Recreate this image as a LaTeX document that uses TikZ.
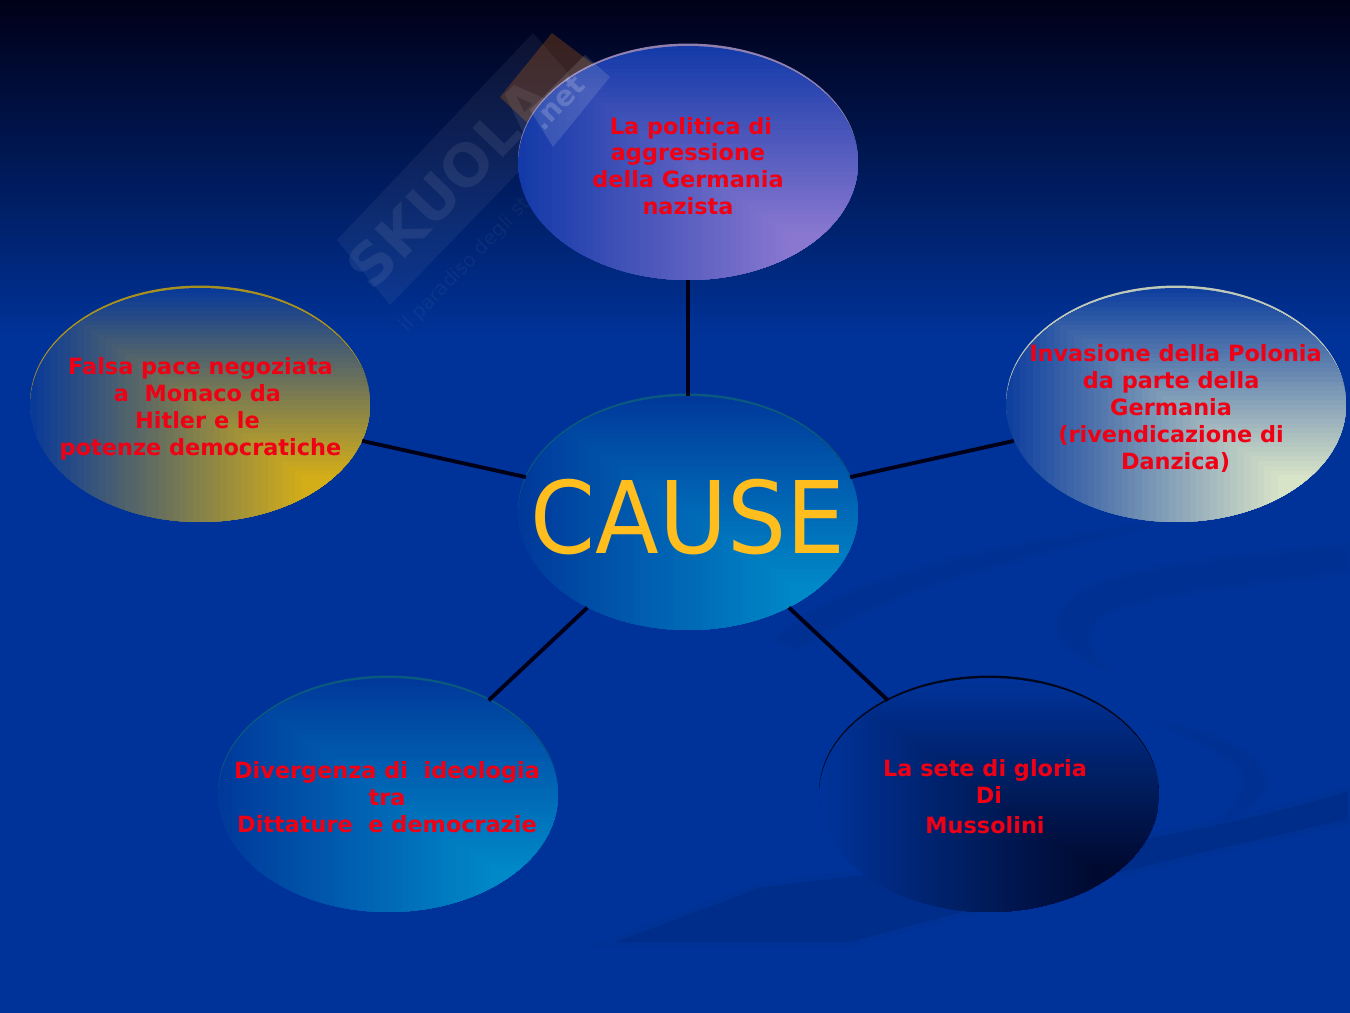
\documentclass[tikz,border=0pt]{standalone}
\usepackage{fontspec}
\setmainfont{DejaVu Sans}
\usetikzlibrary{shapes.geometric,calc}
\definecolor{fondo}{HTML}{003399}
\definecolor{scuro}{HTML}{000018}
\definecolor{scia}{HTML}{003091}
\definecolor{sciabis}{HTML}{002D8A}
\definecolor{rosso}{HTML}{F00014}
\definecolor{oro}{HTML}{FFBE1E}
\definecolor{violaA}{HTML}{133AA8}
\definecolor{violaB}{HTML}{8A78D0}
\definecolor{violaC}{HTML}{9080B0}
\definecolor{gialloA}{HTML}{0A3A98}
\definecolor{gialloB}{HTML}{D4AE18}
\definecolor{gialloC}{HTML}{A89020}
\definecolor{chiaroA}{HTML}{0F3F9F}
\definecolor{chiaroB}{HTML}{D8E4C8}
\definecolor{chiaroC}{HTML}{C0C8B8}
\definecolor{azzurroA}{HTML}{00399A}
\definecolor{azzurroB}{HTML}{0088C8}
\definecolor{azzurroC}{HTML}{0A5A80}
\definecolor{notteA}{HTML}{003399}
\definecolor{notteB}{HTML}{000A30}
\definecolor{notteC}{HTML}{000820}
\tikzset{
    bolla/.style={ellipse,minimum width=6.8cm,minimum height=4.68cm,inner sep=0pt,
        preaction={fill=#1C,transform canvas={yshift=1.4pt}},
        path picture={
            \coordinate (fuoco) at ($(path picture bounding box.south east)!.2!(path picture bounding box.north west)$);
            \foreach \i in {0,...,40}{
                \pgfmathsetmacro{\t}{1-\i/40}
                \pgfmathsetmacro{\p}{100*\i/40}
                \fill[#1B!\p!#1A] ($(fuoco)!\t!(path picture bounding box.north west)$) rectangle (path picture bounding box.south east);
            }
        }},
    testo/.style={font=\bfseries\fontsize{12.75}{15.3}\selectfont,text=rosso,align=center,inner sep=0pt},
    legame/.style={line width=2.2pt,color=scuro},
    striscia/.style={fill=scia,draw=scia!50!fondo,line width=3pt}
}
\begin{document}
\begin{tikzpicture}[x=.02cm,y=-.02cm]
    \useasboundingbox (0,0) rectangle (1350,1013);
    % background
    \fill[fondo] (0,0) rectangle (1350,1013);
    \shade[top color=scuro,bottom color=fondo] (0,0) rectangle (1350,340);
    \fill[striscia] (775,640) .. controls (850,570) and (1000,545) .. (1150,525) .. controls (1000,565) and (880,590) .. (800,650) -- cycle;
    \fill[striscia] (1350,545) .. controls (1200,560) and (1060,570) .. (1057,625) .. controls (1057,645) and (1075,655) .. (1105,668) .. controls (1092,655) and (1085,640) .. (1090,630) .. controls (1100,595) and (1250,585) .. (1350,572) -- cycle;
    \fill[striscia] (1165,725) .. controls (1240,735) and (1275,770) .. (1265,790) .. controls (1252,810) and (1232,820) .. (1215,825) .. controls (1240,805) and (1250,780) .. (1235,765) .. controls (1215,750) and (1185,735) .. (1165,725) -- cycle;
    \fill[striscia,fill=sciabis] (1350,788) .. controls (1150,850) and (950,860) .. (760,885) -- (600,945) -- (848,945) .. controls (1000,905) and (1150,865) .. (1350,822) -- cycle;
    % watermark, under the bubbles
    \fill[white,opacity=.05] (337,240) -- (533,33) -- (590,98) -- (390,305) -- cycle;
    \fill[orange,opacity=.22] (552,33) -- (500,97) -- (553,147) -- (610,77) -- cycle;
    \node[rotate=46,text=white,opacity=.075,inner sep=0pt,font=\bfseries\fontsize{33}{33}\selectfont] (marchio) at (449,183) {SKUOLA};
    \node[rotate=46,text=white,opacity=.045,inner sep=0pt,font=\fontsize{11}{11}\selectfont] (motto) at (487,243) {il paradiso degli studenti};
    % the bubbles
    \node[bolla=viola] (politica) at (688,163) {};
    \node[bolla=giallo] (pace) at (200,405) {};
    \node[bolla=chiaro] (polonia) at (1176,405) {};
    \node[bolla=azzurro] (cause) at (688,513) {};
    \node[bolla=azzurro] (ideologia) at (388,795) {};
    \node[bolla=notte] (gloria) at (989,795) {};
    % links
    \draw[legame] (cause) -- (politica);
    \draw[legame] (cause) -- (pace);
    \draw[legame] (cause) -- (polonia);
    \draw[legame] (cause) -- (ideologia);
    \draw[legame] (cause) -- (gloria);
    % texts
    \node[testo] (tpolitica) at (688,166) {\kern3.4pt La politica di\\aggressione\\della Germania\\nazista};
    \node[testo] (tpace) at (200.5,409) {Falsa pace negoziata\\a~~Monaco da\kern3.4pt\\Hitler e le\kern3.4pt\\potenze democratiche};
    \node[testo] (tpolonia) at (1175.5,408.5) {Invasione della Polonia\\da parte della\kern5pt\\Germania\kern5pt\\(rivendicazione di\kern5pt\\Danzica)};
    \node[testo] (tideologia) at (387,797) {Divergenza di~~ideologia\\tra\\Dittature~~e democrazie};
    \node[testo] (tgloria) at (985,797) {La sete di gloria\\\hspace{4.5pt}Di\\[2pt]Mussolini};
    \node[inner sep=0pt,text=oro,font=\fontsize{57}{60}\selectfont] (tcause) at (688,517) {\scalebox{.93}[1]{CAUSE}};
    % watermark, over the bubbles
    \fill[white,opacity=.12] (530,110) -- (553,147) -- (610,77) -- (585,55) -- cycle;
    \node[rotate=46,text=white,opacity=.18,inner sep=0pt,font=\bfseries\fontsize{16}{16}\selectfont] (punto) at (558,103) {.net};
\end{tikzpicture}
\end{document}
